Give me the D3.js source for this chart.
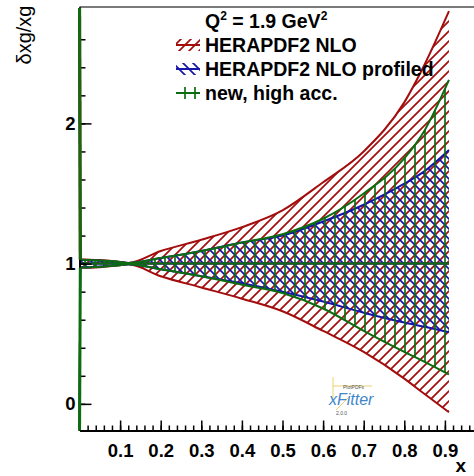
<!DOCTYPE html>
<html>
<head>
<meta charset="utf-8">
<script src="https://cdn.jsdelivr.net/npm/d3@7"></script>
<style>
  body { margin: 0; background: #fff; }
  svg { display: block; font-family: 'Liberation Sans', Arial, sans-serif; }
</style>
</head>
<body>
<svg id="drawing_region"></svg>
<script>
// x grid of the bands
const xValues = [0, 0.002, 0.01, 0.05, 0.1, 0.12, 0.2, 0.3, 0.4, 0.5, 0.6, 0.7, 0.8, 0.85, 0.91];

// HERAPDF2 NLO
const heraUpper = [3.0, 1.03, 1.03, 1.025, 1.012, 1.005, 1.09, 1.17, 1.26, 1.38, 1.58, 1.8, 2.15, 2.42, 2.80];
const heraLower = [-0.3, 0.97, 0.97, 0.975, 0.988, 0.995, 0.91, 0.83, 0.75, 0.66, 0.52, 0.37, 0.18, 0.07, -0.06];
// HERAPDF2 NLO profiled
const profUpper = [3.0, 1.025, 1.025, 1.02, 1.01, 1.004, 1.04, 1.09, 1.15, 1.2, 1.3, 1.42, 1.57, 1.66, 1.81];
const profLower = [-0.3, 0.975, 0.975, 0.98, 0.99, 0.996, 0.96, 0.91, 0.86, 0.8, 0.73, 0.65, 0.58, 0.55, 0.51];
// new, high acc.
const newUpper = [3.0, 1.028, 1.028, 1.022, 1.012, 1.004, 1.04, 1.09, 1.15, 1.21, 1.32, 1.5, 1.75, 1.95, 2.31];
const newLower = [-0.3, 0.972, 0.972, 0.978, 0.988, 0.996, 0.96, 0.91, 0.85, 0.79, 0.68, 0.52, 0.37, 0.3, 0.21];

const legendLabels = ['HERAPDF2 NLO', 'HERAPDF2 NLO profiled', 'new, high acc.'];

const xTickValues = [0.1, 0.2, 0.3, 0.4, 0.5, 0.6, 0.7, 0.8, 0.9, 1.0];
const xTickLabels = ['0.1', '0.2', '0.3', '0.4', '0.5', '0.6', '0.7', '0.8', '0.9', ''];
const yTickValues = [0, 1, 2];
const yTickLabels = ['0', '1', '2'];

class BandPlot {

    constructor( config ) {
        this.config = config;
        this.bands = [
            { label: legendLabels[0], upper: heraUpper, lower: heraLower, color: '#a30d0d', pattern: 'hatch_red' },
            { label: legendLabels[1], upper: profUpper, lower: profLower, color: '#1616a8', pattern: 'hatch_blue' },
            { label: legendLabels[2], upper: newUpper, lower: newLower, color: '#0c6c10', pattern: 'hatch_green' }
        ];
        this.init();
    }

    init() {
        let self = this;
        const c = self.config;

        self.svg = d3.select( c.parent )
            .attr('width', c.width)
            .attr('height', c.height);

        self.xscale = d3.scaleLinear().domain([0, 1]).range([c.left, c.right]);
        self.yscale = d3.scaleLinear().domain([-0.19, 2.83]).range([c.bottom, c.top]);

        const defs = self.svg.append('defs');
        defs.append('clipPath').attr('id', 'plot_clip')
            .append('rect')
            .attr('x', c.left - 3).attr('y', c.top + 1)
            .attr('width', c.right - c.left + 3).attr('height', c.bottom - c.top - 1);

        // hatch patterns: red "/", blue "\", green "|"
        const pats = [
            { id: 'hatch_red', color: '#a30d0d', d: 'M-1,11 L11,-1 M-1,1 L1,-1 M9,11 L11,9' },
            { id: 'hatch_blue', color: '#1616a8', d: 'M-1,-1 L11,11 M9,-1 L11,1 M-1,9 L1,11' },
            { id: 'hatch_green', color: '#0c6c10', d: 'M5,-1 L5,11' }
        ];
        pats.forEach( p => {
            defs.append('pattern')
                .attr('id', p.id)
                .attr('patternUnits', 'userSpaceOnUse')
                .attr('width', 10).attr('height', 10)
                .append('path')
                .attr('d', p.d)
                .attr('stroke', p.color)
                .attr('stroke-width', 1.7)
                .attr('fill', 'none');
        });

        self.chart = self.svg.append('g').attr('clip-path', 'url(#plot_clip)');
    }

    render() {
        let self = this;
        const c = self.config;

        const area = d3.area()
            .curve(d3.curveMonotoneX)
            .x( d => self.xscale(d.x) )
            .y0( d => self.yscale(d.lo) )
            .y1( d => self.yscale(d.hi) );
        const line = d3.line()
            .curve(d3.curveMonotoneX)
            .x( d => self.xscale(d[0]) )
            .y( d => self.yscale(d[1]) );

        self.bands.forEach( b => {
            const pts = xValues.map( (x, i) => ({ x: x, lo: b.lower[i], hi: b.upper[i] }) );
            self.chart.append('path')
                .datum(pts)
                .attr('d', area)
                .attr('fill', `url(#${b.pattern})`);
            [b.upper, b.lower].forEach( arr => {
                self.chart.append('path')
                    .datum( xValues.map( (x, i) => [x, arr[i]] ) )
                    .attr('d', line)
                    .attr('fill', 'none')
                    .attr('stroke', b.color)
                    .attr('stroke-width', 2);
            });
            self.chart.append('path')
                .datum( [[xValues[0], 1], [xValues[xValues.length - 1], 1]] )
                .attr('d', line)
                .attr('fill', 'none')
                .attr('stroke', b.color)
                .attr('stroke-width', 2);
        });

        // frame top
        self.svg.append('line')
            .attr('x1', c.left).attr('x2', c.width)
            .attr('y1', c.top).attr('y2', c.top)
            .attr('stroke', '#7a7a7a').attr('stroke-width', 2);

        // axes
        const xMinor = d3.axisBottom(self.xscale)
            .tickValues( d3.range(0, 51).map( i => i * 0.02 ) )
            .tickSize(-5).tickSizeOuter(0).tickFormat('');
        const xMajor = d3.axisBottom(self.xscale)
            .tickValues(xTickValues)
            .tickSize(-10).tickSizeOuter(0).tickPadding(13)
            .tickFormat( (d, i) => xTickLabels[i] );
        const yMinor = d3.axisLeft(self.yscale)
            .tickValues( d3.range(0, 14).map( i => i * 0.2 ) )
            .tickSize(-6).tickSizeOuter(0).tickFormat('');
        const yMajor = d3.axisLeft(self.yscale)
            .tickValues(yTickValues)
            .tickSize(-12).tickSizeOuter(0).tickPadding(4)
            .tickFormat( (d, i) => yTickLabels[i] );

        [xMinor, xMajor].forEach( ax => {
            self.svg.append('g')
                .attr('class', 'axis')
                .attr('transform', `translate(0, ${c.bottom})`)
                .call(ax);
        });
        [yMinor, yMajor].forEach( ax => {
            self.svg.append('g')
                .attr('class', 'axis')
                .attr('transform', `translate(${c.left}, 0)`)
                .call(ax);
        });
        self.svg.selectAll('.axis path.domain').attr('stroke', '#000').attr('stroke-width', 2);
        self.svg.selectAll('.axis line').attr('stroke', '#000').attr('stroke-width', 1.5);
        self.svg.selectAll('.axis text')
            .attr('font-family', "'Liberation Sans', Arial, sans-serif")
            .attr('font-weight', 'bold')
            .attr('font-size', 18.5)
            .attr('fill', '#000');

        // left edge of the bands drawn again on top of the axis line
        const edge = self.svg.append('g').attr('clip-path', 'url(#plot_clip)');
        [[heraUpper, '#a30d0d'], [newUpper, '#0c6c10'], [newLower, '#0c6c10']].forEach( e => {
            edge.append('path')
                .datum( xValues.slice(0, 2).map( (x, i) => [x, e[0][i]] ) )
                .attr('d', d3.line().x( d => self.xscale(d[0]) ).y( d => self.yscale(d[1]) ))
                .attr('fill', 'none')
                .attr('stroke', e[1]).attr('stroke-width', 3);
        });

        // axis titles
        self.svg.append('text')
            .attr('transform', 'translate(31, 35) rotate(-90)')
            .attr('text-anchor', 'middle')
            .attr('font-size', 20)
            .text('δxg/xg');
        self.svg.append('text')
            .attr('x', 466).attr('y', 472)
            .attr('text-anchor', 'end')
            .attr('font-weight', 'bold')
            .attr('font-size', 19)
            .text('x');

        // legend
        const q = self.svg.append('text')
            .attr('x', 205).attr('y', 28)
            .attr('font-weight', 'bold')
            .attr('font-size', 19.5);
        q.append('tspan').text('Q');
        q.append('tspan').attr('font-size', 12).attr('dy', -8).text('2');
        q.append('tspan').attr('dy', 8).text(' = 1.9 GeV');
        q.append('tspan').attr('font-size', 12).attr('dy', -8).text('2');

        self.bands.forEach( (b, i) => {
            const yb = 52 + i * 24;
            self.svg.append('rect')
                .attr('x', 176).attr('y', yb - 13)
                .attr('width', 24).attr('height', 12)
                .attr('fill', `url(#${b.pattern})`);
            self.svg.append('line')
                .attr('x1', 176).attr('x2', 200)
                .attr('y1', yb - 7).attr('y2', yb - 7)
                .attr('stroke', b.color).attr('stroke-width', 2);
            self.svg.append('text')
                .attr('x', 205).attr('y', yb)
                .attr('font-weight', 'bold')
                .attr('font-size', 19.5)
                .text(b.label);
        });

        // xFitter logo
        const logo = self.svg.append('g');
        logo.append('path')
            .attr('d', 'M333,377 L333,398 M333,386 L372,386 M336,410 L348,398')
            .attr('stroke', '#e8c84a').attr('stroke-width', 0.8).attr('fill', 'none');
        logo.append('text')
            .attr('x', 343).attr('y', 389)
            .attr('font-size', 5).attr('fill', '#555')
            .text('PlotPDFs');
        logo.append('text')
            .attr('x', 329).attr('y', 405)
            .attr('font-style', 'italic')
            .attr('font-size', 16)
            .attr('fill', '#3f86cc')
            .text('xFitter');
        logo.append('text')
            .attr('x', 336).attr('y', 415)
            .attr('font-size', 5).attr('fill', '#555')
            .text('2.0.0');
    }
}

const config = {
    parent: '#drawing_region',
    width: 474,
    height: 476,
    left: 79.5,
    right: 485.5,
    top: 7,
    bottom: 430.5
};

const band_plot = new BandPlot( config );
band_plot.render();
</script>
</body>
</html>
